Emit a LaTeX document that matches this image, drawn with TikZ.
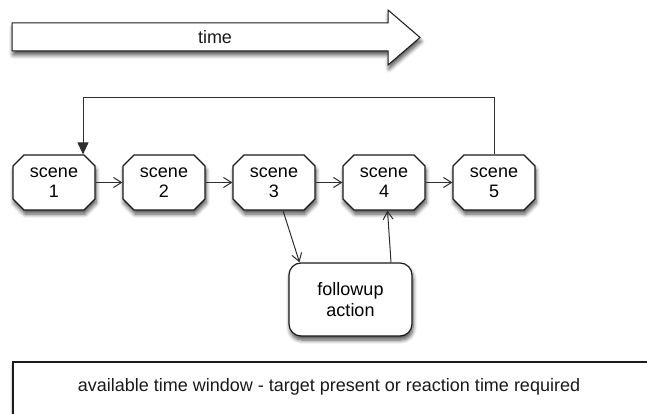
\documentclass[tikz,border=0pt]{standalone}
\usepackage{fontspec}
\setmainfont{Liberation Sans}
\usepackage{tikz}
\usetikzlibrary{positioning,arrows.meta,shapes.misc,shadows.blur}
\definecolor{ink1}{HTML}{1A1A1A}
\definecolor{ink2}{HTML}{2E2E2E}

\begin{document}
\begin{tikzpicture}[
  x=1pt, y=-1pt,
  font=\fontsize{18}{20.5}\selectfont,
  shd/.style={blur shadow={shadow xshift=1pt, shadow yshift=-4pt,
              shadow blur steps=6, shadow blur radius=4pt, shadow opacity=70}},
  scn/.style={chamfered rectangle, chamfered rectangle xsep=5pt,
              chamfered rectangle ysep=6pt, draw=ink1, line width=1.2pt,
              fill=white, minimum width=82pt, minimum height=55pt,
              inner sep=0pt, align=center, shd},
  act/.style={rounded corners=12pt, draw=ink1, line width=1.2pt,
              fill=white, minimum width=123pt, minimum height=73pt,
              align=center, shd},
  ar/.style={-{Straight Barb[length=8pt,width=10pt]}, draw=ink2, line width=1pt},
  fb/.style={-{Triangle[length=12pt,width=11pt]}, draw=ink2, line width=1pt},
  lbl/.style={text=ink1, inner sep=1pt}
]
\useasboundingbox (0,0) rectangle (647,414);
\clip (0,0) rectangle (647,414);

% ===== time arrow =====
\draw[draw=ink1, line width=1pt, fill=white, shd]
  (12,23) -- (388,23) -- (388,10) -- (420,37.5) -- (388,65) -- (388,51)
  -- (12,51) -- cycle;
\node[lbl] (time) at (215,37) {time};

% ===== scenes =====
\foreach \k in {1,...,5} {
  \node[scn] (scene\k) at ({54+(\k-1)*110},182.5) {scene\\\k};
}
\foreach \a/\b in {1/2,2/3,3/4,4/5} {
  \draw[ar] (scene\a.east) -- (scene\b.west);
}

% loop back from the last scene
\draw[fb] (scene5.north) -- ++(0,-57) -| ([xshift=29pt]scene1.north);

% ===== followup =====
\node[act] (followup) at (350.5,299.5) {followup\\action};
\draw[ar] ([xshift=9pt]scene3.south) -- ([xshift=-51pt]followup.north);
\draw[ar] ([xshift=40.5pt]followup.north) -- ([xshift=3.5pt]scene4.south);

% ===== time window =====
\draw[draw=ink1, line width=1.2pt, fill=white, shd] (13,362) rectangle (700,450);
\node[lbl] (window) at (329,387)
  {available time window - target present or reaction time required};
\end{tikzpicture}
\end{document}
